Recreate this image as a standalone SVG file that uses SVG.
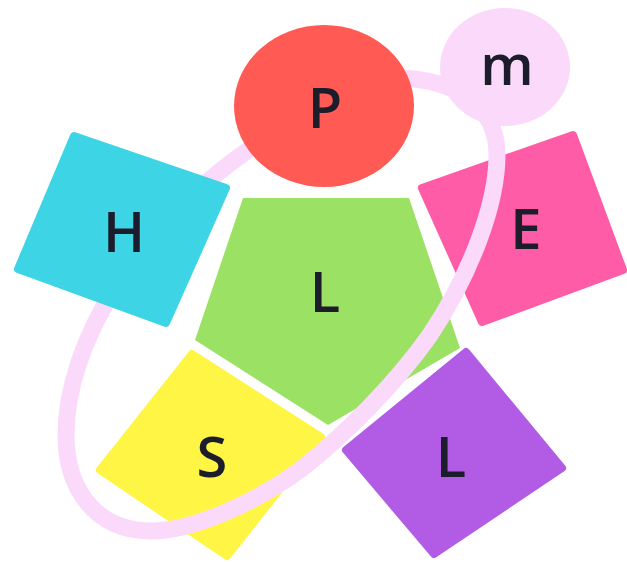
<svg xmlns="http://www.w3.org/2000/svg" width="627" height="562" viewBox="0 0 627 562">
<style>
.s{stroke-width:8;stroke-linejoin:round}
.t{font-family:"Open Sans","Noto Sans","DejaVu Sans",sans-serif;font-size:56px;font-weight:600;text-anchor:middle;fill:#1c1c2a}
.c{fill:none;stroke:#fbd9fb;stroke-width:17;stroke-linecap:butt}
</style>
<rect width="627" height="562" fill="#fff"/>
<g id="node-e"><polygon class="s" points="422,188 573,135 623,270 482,322" fill="#ff5ca8" stroke="#ff5ca8"/><text class="t" x="526" y="249">E</text></g>
<g id="node-center"><polygon points="243,198 409,198 460,348 328,425 195,340" fill="#9be164"/><text class="t" x="325" y="312">L</text></g>
<g id="node-s"><polygon class="s" points="192,354 321,437 227,556 100,470" fill="#fff545" stroke="#fff545"/><text class="t" x="212" y="477">S</text></g>
<g id="node-l2"><polygon class="s" points="466,352 562,468 434,554 346,450" fill="#b25ce6" stroke="#b25ce6"/><text class="t" x="451" y="477">L</text></g>
<g id="connectors"><path class="c" d="M400,78C455,80 497,105 497,155C497,205 470,275 430,335C397,382 345,435 300,470C255,503 190,532 150,531C92,530 66,485 66,435C66,345 135,225 260,142"/></g>
<g id="node-h"><polygon class="s" points="74,136 226,188 166,323 18,269" fill="#3dd5e6" stroke="#3dd5e6"/><text class="t" x="124" y="252">H</text></g>
<g id="node-p"><ellipse cx="324" cy="106" rx="90" ry="81" fill="#ff5a54"/><text class="t" x="325" y="128">P</text></g>
<g id="node-m"><ellipse cx="505" cy="67" rx="65" ry="59" fill="#fbd9fb"/><text class="t" x="507" y="85">m</text></g>
</svg>
